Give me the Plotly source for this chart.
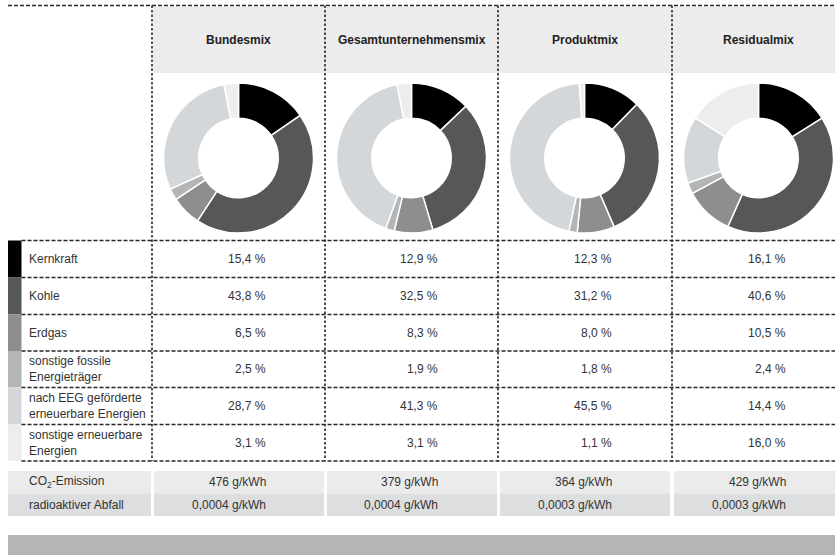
import plotly.graph_objects as go

# ---------------- data ----------------
categories = ["Kernkraft", "Kohle", "Erdgas",
              "sonstige fossile<br>Energieträger",
              "nach EEG geförderte<br>erneuerbare Energien",
              "sonstige erneuerbare<br>Energien"]
mixes = ["Bundesmix", "Gesamtunternehmensmix", "Produktmix", "Residualmix"]
bundesmix = [15.4, 43.8, 6.5, 2.5, 28.7, 3.1]
gesamtunternehmensmix = [12.9, 32.5, 8.3, 1.9, 41.3, 3.1]
produktmix = [12.3, 31.2, 8.0, 1.8, 45.5, 1.1]
residualmix = [16.1, 40.6, 10.5, 2.4, 14.4, 16.0]
co2_emission = [476, 379, 364, 429]
radioaktiver_abfall = [0.0004, 0.0004, 0.0003, 0.0003]
extra_labels = ["CO<sub>2</sub>-Emission", "radioaktiver Abfall"]

series = [bundesmix, gesamtunternehmensmix, produktmix, residualmix]
colors = ["#000000", "#555759", "#8d8e90", "#b3b5b7", "#d4d7d9", "#ededed"]

# ---------------- geometry (px) ----------------
W, H = 835, 555
FONT = "Liberation Sans, Arial, sans-serif"
col_left = [152, 325, 498, 672]
col_w = 173
row_lines = [240.5, 277.5, 314.5, 351, 387.5, 424.5, 461]
n_rows = len(categories)
donut_cy = 158
donut_r = 75


def px(x):
    return x / W


def py(y):
    return 1 - y / H


def de(v):
    return f"{v:.1f}".replace(".", ",") + " %"


fig = go.Figure()
shapes = []
annotations = []

# header band
shapes.append(dict(type="rect", xref="paper", yref="paper",
                   x0=px(153), x1=px(835), y0=py(73), y1=py(7),
                   fillcolor="#ececec", line=dict(width=0), layer="below"))

# category swatches
for i, c in enumerate(colors):
    shapes.append(dict(type="rect", xref="paper", yref="paper",
                       x0=px(8), x1=px(21.5),
                       y0=py(row_lines[i + 1]), y1=py(row_lines[i]),
                       fillcolor=c, line=dict(width=0), layer="below"))

# bottom rows (CO2 / waste)
extra_colors = ["#ebebeb", "#dcdee0"]
extra_top = [471, 493.5]
extra_h = 22.5
cells = [(8, 151)] + [(l + 2, l + col_w - 1) for l in col_left[:-1]] + [(col_left[-1] + 2, 835)]
for r in range(2):
    for (a, b) in cells:
        shapes.append(dict(type="rect", xref="paper", yref="paper",
                           x0=px(a), x1=px(b),
                           y0=py(extra_top[r] + extra_h), y1=py(extra_top[r]),
                           fillcolor=extra_colors[r], line=dict(width=0), layer="below"))

# bottom bar
shapes.append(dict(type="rect", xref="paper", yref="paper",
                   x0=px(8), x1=px(835), y0=py(555), y1=py(535),
                   fillcolor="#b3b5b7", line=dict(width=0), layer="below"))

# dashed lines
dash_h = "4px,2px"
dash_v = "2.5px,2px"
line_col = "#262626"
shapes.append(dict(type="line", xref="paper", yref="paper",
                   x0=px(8), x1=px(835), y0=py(5.5), y1=py(5.5),
                   line=dict(color=line_col, width=1.5, dash=dash_h)))
for y in row_lines:
    shapes.append(dict(type="line", xref="paper", yref="paper",
                       x0=px(21.5), x1=px(835), y0=py(y), y1=py(y),
                       line=dict(color=line_col, width=1.5, dash=dash_h)))
for l in col_left:
    shapes.append(dict(type="line", xref="paper", yref="paper",
                       x0=px(l), x1=px(l), y0=py(5.5), y1=py(row_lines[-1]),
                       line=dict(color=line_col, width=1.6, dash=dash_v)))

# header text
for j, m in enumerate(mixes):
    cx = col_left[j] + col_w / 2
    annotations.append(dict(x=px(cx), y=py(40), xref="paper", yref="paper",
                            text=f"<b>{m}</b>", showarrow=False,
                            xanchor="center", yanchor="middle",
                            font=dict(family=FONT, size=12, color="#222222")))

# donuts
for j, vals in enumerate(series):
    cx = col_left[j] + col_w / 2
    fig.add_trace(go.Pie(
        labels=[c.replace("<br>", " ") for c in categories], values=vals,
        hole=0.53, sort=False, direction="clockwise", rotation=0,
        marker=dict(colors=colors, line=dict(color="white", width=1.5)),
        textinfo="none", showlegend=False,
        domain=dict(x=[px(cx - donut_r), px(cx + donut_r)],
                    y=[py(donut_cy + donut_r), py(donut_cy - donut_r)]),
    ))

# category labels and values
for i, cat in enumerate(categories):
    yc = (row_lines[i] + row_lines[i + 1]) / 2
    annotations.append(dict(x=px(27), y=py(yc), xref="paper", yref="paper",
                            text=cat, showarrow=False, align="left",
                            xanchor="left", yanchor="middle",
                            font=dict(family=FONT, size=12, color="#333333")))
    for j, vals in enumerate(series):
        xr = col_left[j] + col_w / 2 + 29
        annotations.append(dict(x=px(xr), y=py(yc), xref="paper", yref="paper",
                                text=de(vals[i]), showarrow=False,
                                xanchor="right", yanchor="middle",
                                font=dict(family=FONT, size=12, color="#333333")))

# extra rows
extra_vals = [[f"{v} g/kWh" for v in co2_emission],
              [f"{v:.4f}".replace(".", ",") + " g/kWh" for v in radioaktiver_abfall]]
for r in range(2):
    yc = extra_top[r] + extra_h / 2
    annotations.append(dict(x=px(27), y=py(yc), xref="paper", yref="paper",
                            text=extra_labels[r], showarrow=False,
                            xanchor="left", yanchor="middle",
                            font=dict(family=FONT, size=12, color="#333333")))
    for j in range(4):
        xr = col_left[j] + col_w / 2 + 29
        annotations.append(dict(x=px(xr), y=py(yc), xref="paper", yref="paper",
                                text=extra_vals[r][j], showarrow=False,
                                xanchor="right", yanchor="middle",
                                font=dict(family=FONT, size=12, color="#333333")))

fig.update_layout(
    width=W, height=H, margin=dict(l=0, r=0, t=0, b=0),
    paper_bgcolor="white", plot_bgcolor="white",
    shapes=shapes, annotations=annotations,
    font=dict(family=FONT),
)

fig.write_html("out.html", config={"displayModeBar": False},
               post_script="document.body.style.margin='0';document.body.style.overflow='hidden';")
